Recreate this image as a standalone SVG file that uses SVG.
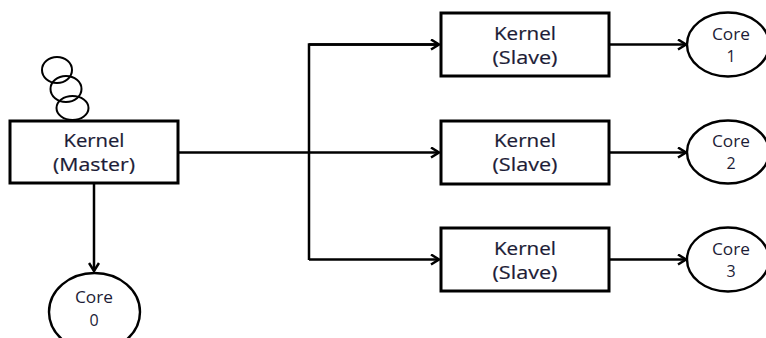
<svg xmlns="http://www.w3.org/2000/svg" width="766" height="338" viewBox="0 0 766 338">
  <style>
    .box { fill: #ffffff; stroke: #000000; stroke-width: 3; }
    .core { fill: #ffffff; stroke: #000000; stroke-width: 2.4; }
    .ring { fill: none; stroke: #000000; stroke-width: 2; }
    .wire { fill: none; stroke: #000000; stroke-width: 2.5; }
    .lbl { font-family: "Open Sans", "DejaVu Sans", sans-serif; font-size: 18px; fill: #1c1c36; text-anchor: middle; stroke: #1c1c36; stroke-width: 0.2; }
    .clbl { font-family: "Open Sans", "DejaVu Sans", sans-serif; font-size: 16px; fill: #1c1c36; text-anchor: middle; }
  </style>
  <defs>
    <marker id="arrow" markerWidth="12" markerHeight="12" refX="10" refY="6" orient="auto" markerUnits="userSpaceOnUse">
      <path d="M2,1 L10,6 L2,11" fill="none" stroke="#000000" stroke-width="2.5"/>
    </marker>
  </defs>
  <rect width="766" height="338" fill="#ffffff"/>

  <g id="connectors">
    <line class="wire" x1="94" y1="183" x2="94" y2="271" marker-end="url(#arrow)"/>
    <line class="wire" x1="178" y1="152.5" x2="439" y2="152.5" marker-end="url(#arrow)"/>
    <polyline class="wire" points="309,260 309,44.5 439,44.5" />
    <line class="wire" x1="309" y1="44.5" x2="439" y2="44.5" marker-end="url(#arrow)"/>
    <line class="wire" x1="309" y1="259.5" x2="439" y2="259.5" marker-end="url(#arrow)"/>
    <line class="wire" x1="609" y1="44.5" x2="686" y2="44.5" marker-end="url(#arrow)"/>
    <line class="wire" x1="609" y1="152.5" x2="686" y2="152.5" marker-end="url(#arrow)"/>
    <line class="wire" x1="609" y1="259.5" x2="686" y2="259.5" marker-end="url(#arrow)"/>
  </g>

  <g id="master-stack">
    <ellipse class="ring" cx="57" cy="70" rx="15" ry="13"/>
    <ellipse class="ring" cx="66" cy="89" rx="15.5" ry="13"/>
    <ellipse class="ring" cx="72.5" cy="108" rx="16" ry="12"/>
  </g>

  <g id="kernel-master">
    <rect class="box" x="10" y="121" width="168" height="62"/>
    <text class="lbl" x="94" y="147" textLength="61" lengthAdjust="spacingAndGlyphs">Kernel</text>
    <text class="lbl" x="94" y="171" textLength="82" lengthAdjust="spacingAndGlyphs">(Master)</text>
  </g>

  <g id="kernel-slave-1">
    <rect class="box" x="441" y="13" width="168" height="63"/>
    <text class="lbl" x="525" y="39.5" textLength="62" lengthAdjust="spacingAndGlyphs">Kernel</text>
    <text class="lbl" x="525" y="63.5" textLength="65" lengthAdjust="spacingAndGlyphs">(Slave)</text>
  </g>

  <g id="kernel-slave-2">
    <rect class="box" x="441" y="121" width="168" height="63"/>
    <text class="lbl" x="525" y="147" textLength="62" lengthAdjust="spacingAndGlyphs">Kernel</text>
    <text class="lbl" x="525" y="171" textLength="65" lengthAdjust="spacingAndGlyphs">(Slave)</text>
  </g>

  <g id="kernel-slave-3">
    <rect class="box" x="441" y="228" width="168" height="63"/>
    <text class="lbl" x="525" y="254.5" textLength="62" lengthAdjust="spacingAndGlyphs">Kernel</text>
    <text class="lbl" x="525" y="278.5" textLength="65" lengthAdjust="spacingAndGlyphs">(Slave)</text>
  </g>

  <g id="core-0">
    <ellipse class="core" cx="94.5" cy="312" rx="45.5" ry="39"/>
    <text class="clbl" x="94" y="303" textLength="38" lengthAdjust="spacingAndGlyphs">Core</text>
    <text class="clbl" x="94" y="326">0</text>
  </g>

  <g id="core-1">
    <ellipse class="core" cx="728" cy="44.5" rx="41" ry="32"/>
    <text class="clbl" x="731" y="40" textLength="38" lengthAdjust="spacingAndGlyphs">Core</text>
    <text class="clbl" x="731" y="62">1</text>
  </g>

  <g id="core-2">
    <ellipse class="core" cx="728" cy="152" rx="41" ry="31.5"/>
    <text class="clbl" x="731" y="147" textLength="38" lengthAdjust="spacingAndGlyphs">Core</text>
    <text class="clbl" x="731" y="169">2</text>
  </g>

  <g id="core-3">
    <ellipse class="core" cx="728" cy="259.5" rx="41" ry="32"/>
    <text class="clbl" x="731" y="255" textLength="38" lengthAdjust="spacingAndGlyphs">Core</text>
    <text class="clbl" x="731" y="277">3</text>
  </g>
</svg>
